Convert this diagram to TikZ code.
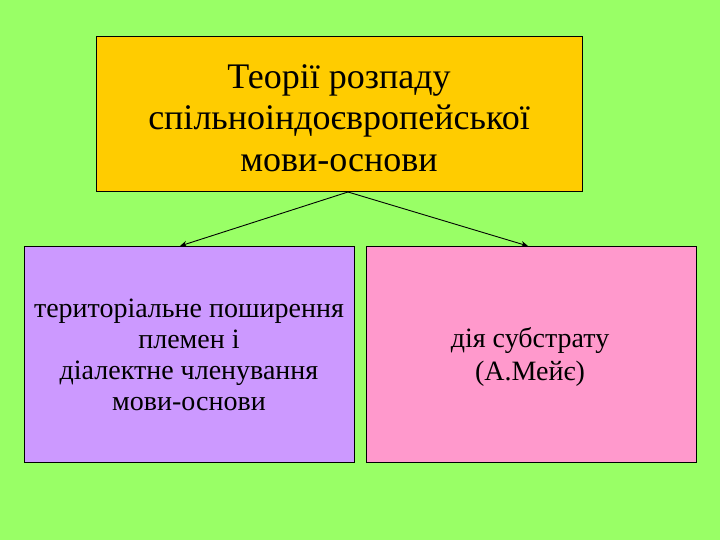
\documentclass[tikz,border=0pt]{standalone}
\usepackage{fontspec}
\setmainfont{Liberation Serif}
\usetikzlibrary{arrows.meta}
\definecolor{bg}{HTML}{99FF66}
\definecolor{topc}{HTML}{FFCC00}
\definecolor{leftc}{HTML}{CC99FF}
\definecolor{rightc}{HTML}{FF99CC}
\tikzset{
  box/.style={draw=black, line width=0.8pt},
  lbl/.style={align=center, inner sep=0pt},
  conn/.style={-{Stealth[length=7pt,width=6pt]}, line width=0.9pt}
}
\begin{document}
\begin{tikzpicture}[x=1pt,y=-1pt]
\fill[bg] (0,0) rectangle (720,540);
\useasboundingbox (0,0) rectangle (720,540);
\draw[box, fill=topc] (96.5,36) rectangle (582,191.5);
\draw[box, fill=leftc] (24,246) rectangle (354,462);
\draw[box, fill=rightc] (366.5,246) rectangle (696,462);
\node[lbl, font=\fontsize{36}{41.5}\selectfont] (title) at (339,118) {Теорії розпаду\\спільноіндоєвропейської\\мови-основи};
\node[lbl, font=\fontsize{28}{31}\selectfont] (left) at (189,355) {територіальне поширення\\племен і\\діалектне членування\\мови-основи};
\node[lbl, font=\fontsize{28}{33}\selectfont] (right) at (530,357) {дія субстрату\\(А.Мейє)};
\coordinate (top) at (348,192);
\coordinate (la) at (180,246);
\coordinate (ra) at (528,246);
\draw[conn] (top) -- (la);
\draw[conn] (top) -- (ra);
\end{tikzpicture}
\end{document}
